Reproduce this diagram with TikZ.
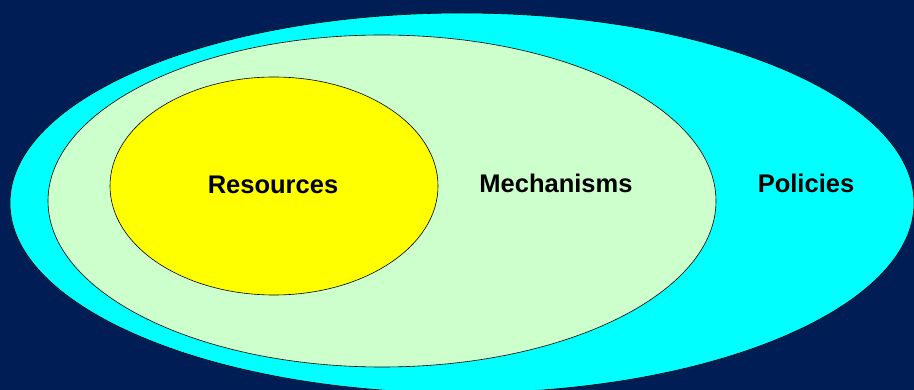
\documentclass[tikz,border=0pt]{standalone}
\usepackage{fontspec}
\setsansfont{Liberation Sans}
\usepackage{xcolor}
\usepackage{tikz}
\definecolor{nvnavy}{RGB}{0,30,85}
\definecolor{nvcyan}{RGB}{0,255,255}
\definecolor{nvmint}{RGB}{204,255,204}
\definecolor{nvyellow}{RGB}{255,255,0}
\tikzset{
  nvback/.style={fill=nvnavy, draw=none},
  nvouter/.style={fill=nvcyan, draw=black, line width=0.6pt},
  nvmech/.style={fill=nvmint, draw=black, line width=0.6pt},
  nvres/.style={fill=nvyellow, draw=black, line width=0.6pt},
  nvlabel/.style={font=\sffamily\bfseries\fontsize{25.5}{30}\selectfont, text=black, inner sep=0pt},
}

\begin{document}
\begin{tikzpicture}[x=1pt,y=-1pt]
\useasboundingbox (0,0) rectangle (914,390);
\clip (0,0) rectangle (914,390);
\fill[nvback] (0,0) rectangle (914,390);
\draw[nvouter] (462,203) ellipse [x radius=452pt, y radius=190pt];
\draw[nvmech] (382,201) ellipse [x radius=334pt, y radius=166pt];
\draw[nvres] (274,186) ellipse [x radius=164pt, y radius=109pt];
\node[nvlabel] (resources) at (273,185) {Resources};
\node[nvlabel] (mechanisms) at (556,183) {Mechanisms};
\node[nvlabel] (policies) at (806,183) {Policies};
\end{tikzpicture}
\end{document}
